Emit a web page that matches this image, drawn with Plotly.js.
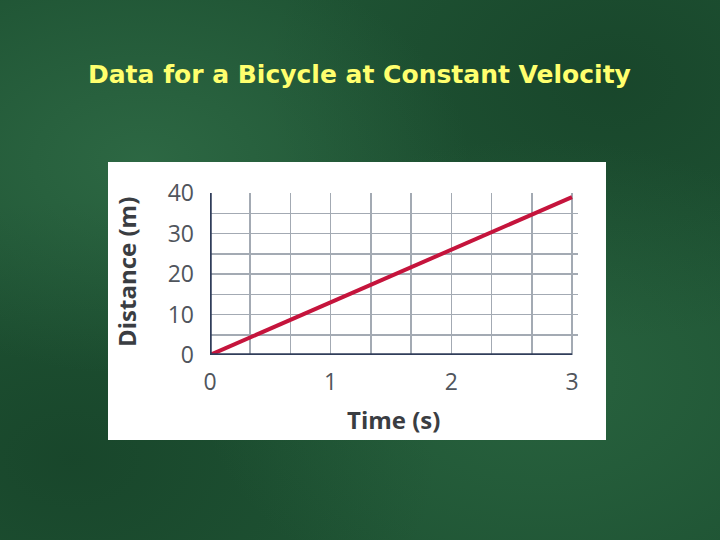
<!DOCTYPE html>
<html>
<head>
<meta charset="utf-8">
<script src="https://cdn.plot.ly/plotly-3.0.1.min.js"></script>
<style>
html,body{margin:0;padding:0;width:720px;height:540px;overflow:hidden;
background-color:#1f5434;
background-image:
 radial-gradient(ellipse at 20% 30%, rgba(70,140,95,0.35), rgba(0,0,0,0) 40%),
 radial-gradient(ellipse at 75% 70%, rgba(60,130,85,0.3), rgba(0,0,0,0) 45%),
 radial-gradient(ellipse at 85% 15%, rgba(15,50,30,0.4), rgba(0,0,0,0) 40%),
 radial-gradient(ellipse at 10% 85%, rgba(15,50,30,0.4), rgba(0,0,0,0) 40%);}
#chart{width:720px;height:540px;}
</style>
</head>
<body>
<div id="chart"></div>
<script>
const chartTitle = "Data for a Bicycle at Constant Velocity";
const xTitle = "Time (s)";
const yTitle = "Distance (m)";
const timeS = [0, 1, 2, 3];
const distanceM = [0, 13, 26, 39];
const xTickVals = [0, 1, 2, 3];
const yTickVals = [0, 10, 20, 30, 40];

const trace = {
  x: timeS, y: distanceM, type: 'scatter', mode: 'lines',
  line: {color: '#c5143c', width: 4}, hoverinfo: 'skip'
};

const tickFont = {family: 'Open Sans, Noto Sans, sans-serif', size: 23, color: '#50555c'};

const layout = {
  width: 720, height: 540,
  paper_bgcolor: 'rgba(0,0,0,0)', plot_bgcolor: 'rgba(0,0,0,0)',
  margin: {l: 210, r: 142, t: 193, b: 185},
  showlegend: false,
  xaxis: {
    range: [0, 3.05], tickvals: xTickVals, ticktext: xTickVals.map(String),
    showgrid: true, gridcolor: '#a3aab3', gridwidth: 1.5,
    minor: {dtick: 1/3, tick0: 0, showgrid: true, gridcolor: '#a3aab3', gridwidth: 1.5},
    zeroline: false, showline: false, ticks: '', ticklabelstandoff: 11,
    tickfont: tickFont, fixedrange: true
  },
  yaxis: {
    range: [0, 40], tickvals: yTickVals, ticktext: yTickVals.map(String),
    showgrid: true, gridcolor: '#a3aab3', gridwidth: 1.5,
    minor: {dtick: 5, tick0: 0, showgrid: true, gridcolor: '#a3aab3', gridwidth: 1.5},
    zeroline: false, showline: false, ticks: '', ticklabelstandoff: 15,
    tickfont: tickFont, fixedrange: true
  },
  shapes: [
    {type: 'rect', xref: 'paper', yref: 'paper', layer: 'below',
     x0: -102/368, x1: 396/368, y0: -85/162, y1: 1 + 31/162,
     fillcolor: '#ffffff', line: {width: 0}},
    {type: 'line', xref: 'x', yref: 'y', x0: 0, x1: 3, y0: 0, y1: 0,
     line: {color: '#303d5a', width: 3.5}, layer: 'above'},
    {type: 'line', xref: 'x', yref: 'y', x0: 0, x1: 0, y0: 0, y1: 40,
     line: {color: '#303d5a', width: 3.5}, layer: 'above'}
  ],
  annotations: [
    {text: '<b>' + chartTitle + '</b>', xref: 'paper', yref: 'paper', x: (359-210)/368, y: 1 + (193-75)/162,
     showarrow: false, xanchor: 'center', yanchor: 'middle',
     font: {family: 'DejaVu Sans, sans-serif', size: 25, color: '#ffff6e'}},
    {text: '<b>' + xTitle + '</b>', xref: 'paper', yref: 'paper', x: (393-210)/368, y: -(419-355)/162,
     showarrow: false, xanchor: 'center', yanchor: 'middle',
     font: {family: 'Open Sans, Noto Sans, sans-serif', size: 24, color: '#3a3d42'}},
    {text: '<b>' + yTitle + '</b>', xref: 'paper', yref: 'paper', x: -(210-126)/368, y: (355-272)/162,
     showarrow: false, xanchor: 'center', yanchor: 'middle', textangle: -90,
     font: {family: 'Open Sans, Noto Sans, sans-serif', size: 24, color: '#3a3d42'}}
  ]
};

Plotly.newPlot('chart', [trace], layout, {displayModeBar: false, staticPlot: true});
</script>
</body>
</html>
